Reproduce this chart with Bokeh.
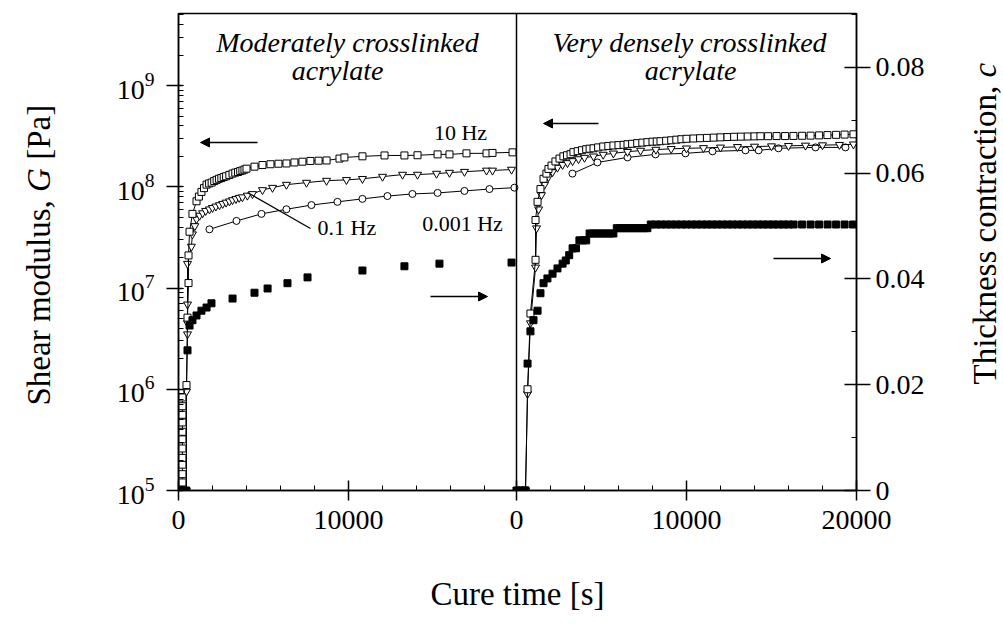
import math
from bokeh.plotting import figure
from bokeh.layouts import row
from bokeh.models import (Range1d, LinearScale, LinearAxis, FixedTicker, LogTicker,
                          Label, Arrow, NormalHead, Span)
from bokeh.embed import file_html
from bokeh.resources import INLINE

FONT = "Liberation Serif"

# ---------------- data (time [s], value) ----------------
# Moderately crosslinked acrylate: shear modulus G [Pa]
shear_10hz_moderate = [
    (230, 1.0e5), (230, 1.2e5), (230, 1.45e5), (230, 1.8e5), (230, 2.1e5), (230, 2.6e5),
    (230, 3.2e5), (230, 3.8e5), (230, 4.7e5), (230, 5.6e5), (230, 6.8e5), (230, 8.3e5),
    (470, 1.1e6), (530, 5.1e6), (590, 1.12e7), (590, 2.1e7), (650, 3.6e7), (820, 5.4e7),
    (1060, 7.2e7), (1200, 8.0e7), (1350, 8.9e7), (1500, 9.7e7), (1650, 1.05e8), (1800, 1.08e8),
    (1950, 1.1e8), (2100, 1.14e8), (2240, 1.17e8), (2380, 1.2e8), (2520, 1.22e8), (2660, 1.25e8),
    (2800, 1.27e8), (2990, 1.31e8), (3180, 1.35e8), (3340, 1.38e8), (3500, 1.4e8), (3630, 1.43e8),
    (3760, 1.45e8), (3880, 1.48e8), (4000, 1.51e8), (4470, 1.58e8), (4940, 1.64e8), (5410, 1.67e8),
    (5880, 1.69e8), (6350, 1.7e8), (6820, 1.74e8), (7290, 1.77e8), (7760, 1.8e8), (8240, 1.81e8),
    (8710, 1.82e8), (9470, 1.9e8), (9760, 1.95e8), (10820, 2.0e8), (12120, 2.04e8), (13290, 2.04e8),
    (14060, 2.05e8), (15240, 2.09e8), (15940, 2.09e8), (16940, 2.14e8), (18120, 2.14e8),
    (18470, 2.16e8), (19650, 2.19e8),
]
shear_01hz_moderate = [
    (470, 1.0e5), (470, 9.5e5), (530, 3.5e6), (530, 4.5e6), (530, 6.9e6), (530, 1.74e7),
    (760, 2.57e7), (820, 3.4e7), (960, 4.1e7), (1060, 4.8e7), (1240, 5.2e7), (1420, 5.5e7),
    (1600, 5.8e7), (1820, 6.0e7), (2000, 6.2e7), (2200, 6.4e7), (2410, 6.6e7), (2600, 6.8e7),
    (2800, 7.0e7), (3000, 7.2e7), (3180, 7.4e7), (3380, 7.6e7), (3570, 7.8e7), (3760, 7.9e7),
    (4050, 8.2e7), (4350, 8.5e7), (4940, 9.3e7), (5530, 9.8e7), (6350, 1.05e8), (7530, 1.1e8),
    (8710, 1.15e8), (9880, 1.17e8), (10820, 1.2e8), (12000, 1.26e8), (13180, 1.32e8),
    (14060, 1.32e8), (15180, 1.35e8), (15940, 1.38e8), (16820, 1.41e8), (18120, 1.45e8),
    (18470, 1.45e8), (19590, 1.48e8),
]
shear_0001hz_moderate = [
    (1820, 3.8e7), (3410, 4.6e7), (4880, 5.4e7), (6350, 6.0e7), (7820, 6.6e7),
    (9350, 7.1e7), (10820, 7.6e7), (12290, 8.1e7), (13760, 8.5e7), (15240, 8.7e7),
    (16820, 9.1e7), (18290, 9.5e7), (19760, 9.8e7),
]
# Moderately crosslinked acrylate: thickness contraction c [-]
contraction_moderate = [
    (0, 0.0), (150, 0.0), (300, 0.0), (450, 0.0), (530, 0.0265), (650, 0.0312),
    (820, 0.0322), (1060, 0.0331), (1350, 0.0340), (1650, 0.0346), (1940, 0.0354),
    (3180, 0.0363), (4470, 0.0374), (5240, 0.0382), (6410, 0.0392), (7590, 0.0403),
    (10820, 0.0416), (13290, 0.0424), (15350, 0.0429), (19590, 0.0431),
]

# Very densely crosslinked acrylate: shear modulus G [Pa]
shear_10hz_dense = [
    (530, 1.0e5), (650, 1.0e6), (820, 5.6e6), (1120, 1.9e7), (1120, 4.7e7), (1240, 7.1e7),
    (1410, 9.5e7), (1590, 1.2e8), (1760, 1.35e8), (1880, 1.5e8), (2060, 1.62e8), (2290, 1.78e8),
    (2530, 1.9e8), (2760, 2.0e8), (2970, 2.05e8), (3180, 2.1e8), (3350, 2.2e8), (3600, 2.25e8),
    (3850, 2.3e8), (4100, 2.35e8), (4300, 2.38e8), (4530, 2.4e8), (4800, 2.45e8), (5100, 2.5e8),
    (5400, 2.53e8), (5700, 2.56e8), (6000, 2.58e8), (6300, 2.6e8), (6530, 2.63e8), (6800, 2.66e8),
    (7100, 2.7e8), (7400, 2.73e8), (7700, 2.76e8), (8000, 2.79e8), (8250, 2.8e8), (8470, 2.82e8),
    (8800, 2.85e8), (9100, 2.88e8), (9400, 2.92e8), (9700, 2.95e8), (10000, 2.98e8), (10410, 3.0e8),
    (10800, 3.02e8), (11200, 3.04e8), (11600, 3.06e8), (12000, 3.08e8), (12410, 3.1e8), (12800, 3.12e8),
    (13200, 3.13e8), (13600, 3.14e8), (14000, 3.15e8), (14350, 3.16e8), (14800, 3.16e8), (15300, 3.17e8),
    (15800, 3.17e8), (16290, 3.18e8), (16800, 3.19e8), (17300, 3.2e8), (17800, 3.22e8), (18290, 3.24e8),
    (18800, 3.26e8), (19300, 3.28e8), (19820, 3.3e8),
]
shear_01hz_dense = [
    (530, 1.0e5), (650, 9.0e5), (820, 4.5e6), (1120, 1.6e7), (1180, 3.9e7), (1300, 6.0e7),
    (1470, 8.3e7), (1650, 1.05e8), (1880, 1.25e8), (2120, 1.4e8), (2410, 1.55e8), (2710, 1.65e8),
    (3000, 1.72e8), (3300, 1.8e8), (3650, 1.88e8), (4000, 1.94e8), (4530, 2.0e8), (5100, 2.08e8),
    (5700, 2.14e8), (6530, 2.22e8), (7300, 2.28e8), (8200, 2.33e8), (9100, 2.37e8), (10000, 2.4e8),
    (11000, 2.42e8), (12000, 2.45e8), (13000, 2.48e8), (14000, 2.5e8), (15000, 2.52e8),
    (16000, 2.54e8), (17000, 2.56e8), (18000, 2.58e8), (19000, 2.6e8), (19820, 2.63e8),
]
shear_0001hz_dense = [
    (3290, 1.35e8), (4760, 1.74e8), (6530, 1.95e8), (8180, 2.09e8), (9940, 2.14e8),
    (11530, 2.24e8), (13470, 2.29e8), (14240, 2.29e8), (15410, 2.4e8), (17590, 2.45e8),
    (19350, 2.45e8),
]
# Very densely crosslinked acrylate: thickness contraction c [-]
contraction_dense = [
    (0, 0.0), (170, 0.0), (340, 0.0), (500, 0.0), (650, 0.0240), (820, 0.0301), (1000, 0.0322),
    (1240, 0.0340), (1410, 0.0373), (1590, 0.0392), (1820, 0.0401), (2120, 0.0410), (2410, 0.0420),
    (2710, 0.0429), (2900, 0.0435), (3100, 0.0445), (3300, 0.0458), (3500, 0.0458), (3700, 0.0473),
    (3900, 0.0473), (4100, 0.0473), (4300, 0.0486), (4500, 0.0486), (4700, 0.0486), (4900, 0.0486),
    (5100, 0.0486), (5300, 0.0486), (5500, 0.0486), (5700, 0.0486), (5900, 0.0496), (6100, 0.0496),
    (6300, 0.0496), (6500, 0.0496), (6700, 0.0496), (6900, 0.0496), (7100, 0.0496), (7300, 0.0496),
    (7500, 0.0496), (7700, 0.0496), (7900, 0.0503), (8200, 0.0503), (8500, 0.0503), (8800, 0.0503),
    (9100, 0.0503), (9400, 0.0503), (9700, 0.0503), (10000, 0.0503), (10300, 0.0503), (10600, 0.0503),
    (10900, 0.0503), (11200, 0.0503), (11500, 0.0503), (11800, 0.0503), (12100, 0.0503), (12400, 0.0503),
    (12700, 0.0503), (13000, 0.0503), (13300, 0.0503), (13600, 0.0503), (13900, 0.0503), (14200, 0.0503),
    (14500, 0.0503), (14800, 0.0503), (15100, 0.0503), (15400, 0.0503), (15700, 0.0503), (16000, 0.0503),
    (16300, 0.0503), (16800, 0.0503), (17300, 0.0503), (17800, 0.0503), (18300, 0.0503), (18800, 0.0503),
    (19300, 0.0503), (19800, 0.0503),
]

# axis definitions
G_MIN, G_MAX = 1e5, 5.15e9
C_MAX = 0.0902
LEFT_SPAN = 19882      # time extent of the left panel [s]
RIGHT_SPAN = 20000     # time extent of the right panel [s]
x_ticks_panel = [0, 10000, 20000]
x_minor_panel = [2000, 4000, 6000, 8000, 12000, 14000, 16000, 18000]
c_ticks = [0, 0.02, 0.04, 0.06, 0.08]
c_minor = [0.01, 0.03, 0.05, 0.07, 0.09]

# ---------------- layout (pixels) ----------------
LTW, RTW = 60, 66                 # widths of the side strips holding the axis titles
BL, BR, BT, BB = 178 - LTW, 80, 13, 135
FW, FH = 678, 477
W, H = BL + FW + BR, BT + FH + BB

p = figure(width=W, height=H, x_range=Range1d(0, LEFT_SPAN + RIGHT_SPAN),
           y_range=Range1d(G_MIN, G_MAX), y_axis_type="log",
           output_backend="svg", toolbar_location=None,
           min_border_left=BL, min_border_right=BR, min_border_top=BT, min_border_bottom=BB)
p.extra_x_ranges = {"right": Range1d(-LEFT_SPAN, RIGHT_SPAN)}
p.extra_y_ranges = {"c": Range1d(0, C_MAX)}
p.extra_y_scales = {"c": LinearScale()}
p.grid.visible = False
p.outline_line_color = "black"
p.outline_line_width = 1.5
p.background_fill_color = "white"
p.border_fill_color = "white"


def style_axis(ax, tin, tout, minor_in, standoff, title=None, title_standoff=0):
    ax.axis_line_color = "black"
    ax.axis_line_width = 1.5
    ax.major_tick_line_color = "black"
    ax.major_tick_line_width = 1.5
    ax.major_tick_in = tin
    ax.major_tick_out = tout
    ax.minor_tick_line_color = "black"
    ax.minor_tick_line_width = 1
    ax.minor_tick_in = minor_in
    ax.minor_tick_out = 0
    ax.major_label_text_font = FONT
    ax.major_label_text_font_size = "28px"
    ax.major_label_text_color = "black"
    ax.major_label_standoff = standoff
    if title:
        ax.axis_label = title
        ax.axis_label_text_font = FONT
        ax.axis_label_text_font_size = "33px"
        ax.axis_label_text_font_style = "normal"
        ax.axis_label_text_color = "black"
        ax.axis_label_standoff = title_standoff


# bottom time axis (two panels share one axis line)
xt = [v for v in x_ticks_panel if v < LEFT_SPAN] + [LEFT_SPAN + v for v in x_ticks_panel]
xm = list(x_minor_panel) + [LEFT_SPAN + v for v in x_minor_panel]
xlabels = {}
for v in x_ticks_panel:
    if v < LEFT_SPAN:
        xlabels[v] = str(v)
    xlabels[LEFT_SPAN + v] = str(v)
xa = p.xaxis[0]
xa.ticker = FixedTicker(ticks=xt, minor_ticks=xm)
xa.major_label_overrides = xlabels
style_axis(xa, 10, 10, 5, 10, "Cure time [s]", 44)

ya = p.yaxis[0]
ya.ticker = LogTicker(num_minor_ticks=10)
style_axis(ya, 4, 12, 5, 12)

ca = LinearAxis(y_range_name="c", ticker=FixedTicker(ticks=c_ticks, minor_ticks=c_minor),
                major_label_overrides={t: ("0" if t == 0 else f"{t:.2f}") for t in c_ticks})
style_axis(ca, 12, 14, 5, 5)
p.add_layout(ca, "right")

# panel divider
p.add_layout(Span(location=LEFT_SPAN, dimension="height", line_color="black", line_width=1.5))


def draw(points, marker, fill, xr="default", yr="default", connect=True, size=7):
    t = [a for a, _ in points]
    v = [b for _, b in points]
    if connect:
        p.line(t, v, line_color="black", line_width=1, x_range_name=xr, y_range_name=yr)
    p.scatter(t, v, marker=marker, size=size, line_color="black", line_width=1,
              fill_color=fill, x_range_name=xr, y_range_name=yr)


draw(shear_0001hz_moderate, "circle", "white")
draw(shear_01hz_moderate, "inverted_triangle", "white", size=8)
draw(shear_10hz_moderate, "square", "white")
draw(contraction_moderate, "square", "black", yr="c", connect=False)

draw(shear_0001hz_dense, "circle", "white", xr="right")
draw(shear_01hz_dense, "inverted_triangle", "white", xr="right", size=8)
draw(shear_10hz_dense, "square", "white", xr="right")
draw(contraction_dense, "square", "black", xr="right", yr="c", connect=False)


# ---------------- annotations inside the frame (placed by page pixel) ----------------
FX0, FY1 = LTW + BL, BT + FH  # frame left / bottom in page px


def X(px):
    return (px - FX0) * (LEFT_SPAN + RIGHT_SPAN) / FW


def Y(py):
    lo, hi = math.log10(G_MIN), math.log10(G_MAX)
    return 10 ** (lo + (FY1 - py) / FH * (hi - lo))


def text(px, py, s, size, style="normal", align="center"):
    p.add_layout(Label(x=X(px), y=Y(py), text=s, text_font=FONT, text_font_size=size,
                       text_font_style=style, text_align=align, text_baseline="middle",
                       text_color="black"))


def arrow(x0, y0, x1, y1, head=True):
    end = NormalHead(size=9, fill_color="black", line_color="black", line_width=1) if head else None
    p.add_layout(Arrow(end=end, x_start=X(x0), y_start=Y(y0), x_end=X(x1), y_end=Y(y1),
                       line_color="black", line_width=1.3))


text(347, 42, "Moderately crosslinked", "28px", "italic")
text(337, 70, "acrylate", "28px", "italic")
text(689, 42, "Very densely crosslinked", "28px", "italic")
text(690, 70, "acrylate", "28px", "italic")

text(460, 132, "10 Hz", "22px")
text(462, 223, "0.001 Hz", "22px")
text(317, 227, "0.1 Hz", "22px", align="left")
arrow(247, 192, 310, 228, head=False)

arrow(257, 142, 200, 142)
arrow(430, 296, 487, 296)
arrow(598, 123, 543, 123)
arrow(773, 258, 830, 258)


# ---------------- side strips with the rotated axis titles ----------------
# In a row, Bokeh aligns the plot frames, so each strip's frame spans the same
# page rows as the main frame (BT .. BT+FH); its y data = pixels above frame bottom.
def title_strip(width, pieces, lx):
    f = figure(width=width, height=H, x_range=Range1d(0, width), y_range=Range1d(0, FH),
               output_backend="svg", toolbar_location=None, min_border=0,
               min_border_top=BT, min_border_bottom=BB,
               x_axis_location=None, y_axis_location=None)
    f.grid.visible = False
    f.outline_line_color = None
    f.background_fill_color = "white"
    f.border_fill_color = "white"
    for py, s, style in pieces:
        f.add_layout(Label(x=lx, y=FY1 - py, text=s, text_font=FONT, text_font_size="33px",
                           text_font_style=style, text_align="left", text_baseline="middle",
                           text_color="black", angle=math.pi / 2))
    return f


ls = 255 + 150   # page y where the left title starts (text reads upward)
left_strip = title_strip(LTW, [(ls, "Shear modulus,", "normal"),
                               (ls - 213.6, "G", "italic"),
                               (ls - 213.6 - 23.8 - 8.3, "[Pa]", "normal")], 38)
rs = 223 + 161   # page y where the right title starts
right_strip = title_strip(RTW, [(rs, "Thickness contraction,", "normal"),
                                (rs - 307, "c", "italic")], 48)

layout = row(left_strip, p, right_strip, spacing=0)
open("out.html", "w").write(file_html(layout, INLINE))
